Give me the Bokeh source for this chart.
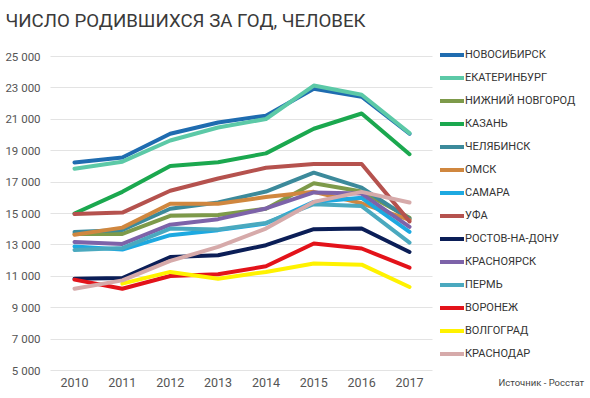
from bokeh.plotting import figure
from bokeh.models import Legend, LegendItem, FixedTicker, Range1d, ColumnDataSource, Label
from bokeh.embed import file_html
from bokeh.resources import INLINE

nan = float("nan")

years = [2010, 2011, 2012, 2013, 2014, 2015, 2016, 2017]

cities = ["НОВОСИБИРСК", "ЕКАТЕРИНБУРГ", "НИЖНИЙ НОВГОРОД", "КАЗАНЬ", "ЧЕЛЯБИНСК",
          "ОМСК", "САМАРА", "УФА", "РОСТОВ-НА-ДОНУ", "КРАСНОЯРСК", "ПЕРМЬ",
          "ВОРОНЕЖ", "ВОЛГОГРАД", "КРАСНОДАР"]

novosibirsk = [18250, 18570, 20080, 20800, 21230, 22950, 22440, 20080]
ekaterinburg = [17850, 18300, 19650, 20480, 21020, 23150, 22560, 20120]
nizhny_novgorod = [13700, 13700, 14850, 14900, 15300, 16930, 16400, 14730]
kazan = [15000, 16380, 18020, 18270, 18830, 20400, 21370, 18780]
chelyabinsk = [13820, 13950, 15300, 15700, 16400, 17600, 16650, 14650]
omsk = [13650, 14100, 15620, 15620, 16050, 16380, 15650, 14600]
samara = [12900, 12700, 13620, 13940, 14360, 15740, 16000, 13830]
ufa = [14970, 15060, 16450, 17230, 17910, 18150, 18150, 14500]
rostov = [10850, 10890, 12230, 12340, 12980, 14000, 14040, 12550]
krasnoyarsk = [13190, 13060, 14290, 14640, 15320, 16340, 16270, 14150]
perm = [12680, 12800, 14040, 13980, 14400, 15590, 15470, 13150]
voronezh = [10790, 10210, 11020, 11130, 11640, 13090, 12770, 11550]
volgograd = [nan, 10530, 11280, 10850, 11280, 11810, 11740, 10320]
krasnodar = [10210, 10740, 11980, 12870, 14040, 15740, 16380, 15700]

series = [novosibirsk, ekaterinburg, nizhny_novgorod, kazan, chelyabinsk, omsk, samara,
          ufa, rostov, krasnoyarsk, perm, voronezh, volgograd, krasnodar]

colors = ["#1F6CB0", "#5CC9A7", "#7D9A4A", "#1BA84F", "#3C8A9B", "#D0873F", "#1DA9E1",
          "#B5524E", "#0B1E57", "#7D63A9", "#4AA9BF", "#E3131A", "#FFF200", "#D6AAAA"]

y_ticks = [5000, 7000, 9000, 11000, 13000, 15000, 17000, 19000, 21000, 23000, 25000]
y_tick_labels = ["5 000", "7 000", "9 000", "11 000", "13 000", "15 000", "17 000",
                 "19 000", "21 000", "23 000", "25 000"]

title_text = "ЧИСЛО РОДИВШИХСЯ ЗА ГОД, ЧЕЛОВЕК"
source_text = "Источник - Росстат"

FONT = "Roboto"

# plot-area extent in data units (where the grid and axes sit)
X_LO, X_HI = 2009.5, 2017.48
Y_LO, Y_HI = 5000, 25000

# the frame fills the whole canvas; ranges are widened so that the plot area
# sits where it does in the original, leaving room for title, legend and note
p = figure(width=588, height=396, output_backend="svg", toolbar_location=None,
           x_range=Range1d(2008.4537, 2020.740), y_range=Range1d(3344, 28567),
           min_border_left=0, min_border_right=0, min_border_top=0, min_border_bottom=0,
           background_fill_color="white", border_fill_color="white")
p.outline_line_color = None

p.xgrid.grid_line_color = None
grid = p.ygrid[0]
grid.ticker = FixedTicker(ticks=y_ticks)
grid.grid_line_color = "#E3E3E3"
grid.grid_line_width = 1
if "cross_bounds" in grid.properties():
    grid.cross_bounds = (X_LO, X_HI)
else:
    grid.grid_line_color = None
    p.segment(x0=[X_LO] * len(y_ticks), x1=[X_HI] * len(y_ticks), y0=y_ticks, y1=y_ticks,
              line_color="#E3E3E3", line_width=1)

p.yaxis.fixed_location = X_LO
p.xaxis.fixed_location = Y_LO
p.yaxis.ticker = FixedTicker(ticks=y_ticks)
p.yaxis.major_label_overrides = {t: l for t, l in zip(y_ticks, y_tick_labels)}
p.xaxis.ticker = FixedTicker(ticks=years)
p.xaxis.major_label_overrides = {y: str(y) for y in years}
for ax in (p.xaxis, p.yaxis):
    ax.axis_line_color = None
    ax.major_tick_line_color = None
    ax.minor_tick_line_color = None
    ax.major_label_text_font = FONT
    ax.major_label_text_color = "#555555"
p.yaxis.major_label_text_font_size = "11.5px"
p.yaxis.major_label_standoff = 4
p.xaxis.major_label_text_font_size = "12.5px"
p.xaxis.major_label_standoff = 1

items = []
for name, vals, col in zip(cities, series, colors):
    src = ColumnDataSource(dict(x=years, y=vals))
    r = p.line("x", "y", source=src, line_color=col, line_width=4,
               line_cap="round", line_join="round")
    items.append(LegendItem(label=name, renderers=[r]))

legend = Legend(items=items, location=(440, 35), orientation="vertical",
                glyph_width=24, glyph_height=15, label_height=15, spacing=8,
                label_standoff=1, padding=5, margin=0,
                label_text_font=FONT, label_text_font_size="11px",
                label_text_color="#333333", border_line_color=None,
                background_fill_alpha=0)
p.add_layout(legend, "center")

title = Label(x=2008.558, y=27293, text=title_text,
              text_font=FONT, text_font_size="18.7px", text_color="#3A3A3A",
              text_baseline="middle", text_align="left")
p.add_layout(title)

note = Label(x=2018.86, y=4236, text=source_text,
             text_font=FONT, text_font_size="9.5px", text_color="#444444",
             text_baseline="middle", text_align="left")
p.add_layout(note)

open("out.html", "w").write(file_html(p, INLINE))
